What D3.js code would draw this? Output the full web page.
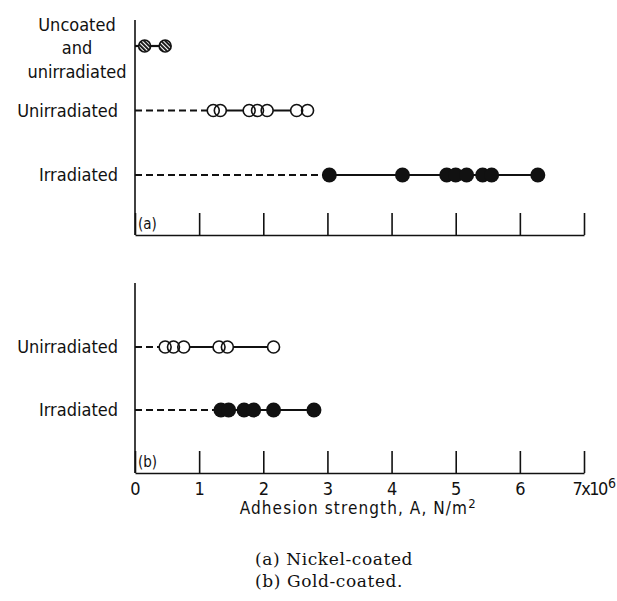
<!DOCTYPE html>
<html lang="en">
<head>
<meta charset="UTF-8">
<title>Adhesion strength</title>
<script src="https://d3js.org/d3.v7.min.js"></script>
<style>
  body { margin: 0; background: #fff; }
  svg { display: block; }
  .lbl { font-family: "DejaVu Sans Condensed", "DejaVu Sans", sans-serif; font-stretch: condensed; fill: #111; }
  .cap { font-family: "DejaVu Serif", serif; fill: #111; }
</style>
</head>
<body>
<div id="chart"></div>
<script>
// values, in units of 10^6 N/m^2
const categoriesA = ["Uncoated and unirradiated", "Unirradiated", "Irradiated"];
const uncoatedA = [0.15, 0.47];
const unirradA = [1.22, 1.33, 1.78, 1.91, 2.06, 2.52, 2.69];
const irradA = [3.03, 4.17, 4.86, 5.0, 5.17, 5.42, 5.56, 6.28];

const categoriesB = ["Unirradiated", "Irradiated"];
const unirradB = [0.47, 0.60, 0.76, 1.31, 1.44, 2.16];
const irradB = [1.34, 1.46, 1.70, 1.85, 2.16, 2.79];

const tickValues = [0, 1, 2, 3, 4, 5, 6, 7];
const tickLabels = ["0", "1", "2", "3", "4", "5", "6", "7x10"];
const axisTitle = "Adhesion strength, A, N/m";
const captions = ["(a) Nickel-coated", "(b) Gold-coated."];

const W = 617, H = 601;
const svg = d3.select("#chart").append("svg").attr("width", W).attr("height", H);

// diagonal hatch for the uncoated points
svg.append("defs").append("pattern")
    .attr("id", "hatch")
    .attr("patternUnits", "userSpaceOnUse")
    .attr("width", 3).attr("height", 3)
    .attr("patternTransform", "rotate(-45)")
    .append("rect")
    .attr("width", 1.9).attr("height", 3)
    .attr("fill", "#111");

const x = d3.scaleLinear().domain([0, 7]).range([135, 584]);

const panels = [
    { name: "(a)", cats: categoriesA, rows: [uncoatedA, unirradA, irradA], kinds: ["hatch", "open", "filled"],
      top: 20, bottom: 235, yr: [46, 175], labels: false },
    { name: "(b)", cats: categoriesB, rows: [unirradB, irradB], kinds: ["open", "filled"],
      top: 283, bottom: 473, yr: [347, 410], labels: true }
];

panels.forEach(p => {
    const g = svg.append("g");
    const y = d3.scalePoint().domain(p.cats).range(p.yr);

    // left axis
    g.append("line")
        .attr("x1", x(0)).attr("x2", x(0))
        .attr("y1", p.top).attr("y2", p.bottom)
        .attr("stroke", "#111").attr("stroke-width", 1.6);

    // bottom axis with upward ticks
    const ax = d3.axisBottom(x)
        .tickValues(tickValues)
        .tickSize(-22)
        .tickSizeOuter(0)
        .tickPadding(9)
        .tickFormat((d, i) => p.labels ? tickLabels[i] : "");
    const axg = g.append("g")
        .attr("transform", `translate(0,${p.bottom})`)
        .call(ax);
    axg.select(".domain").attr("stroke", "#111").attr("stroke-width", 1.6);
    axg.selectAll(".tick line").attr("stroke", "#111").attr("stroke-width", 1.6);
    axg.selectAll(".tick text")
        .attr("class", "lbl")
        .style("font-size", "18px")
        .attr("fill", "#111");
    if (p.labels) {
        const last = axg.selectAll(".tick text").filter((d, i) => i === tickValues.length - 1);
        last.attr("text-anchor", "start").attr("x", -12)
            .style("letter-spacing", "-1.6px");
        last.append("tspan").attr("dy", "-0.45em").attr("dx", 1.5)
            .style("font-size", "14px").style("letter-spacing", "0px").text("6");
    }

    // panel tag
    g.append("text").attr("class", "lbl")
        .attr("x", x(0) + 3).attr("y", p.bottom - 6)
        .style("font-size", "15px")
        .text(p.name);

    // row labels
    p.cats.forEach(c => {
        if (c === "Uncoated and unirradiated") {
            const t = g.append("text").attr("class", "lbl")
                .attr("text-anchor", "middle")
                .style("font-size", "18px");
            ["Uncoated", "and", "unirradiated"].forEach((w, i) => {
                t.append("tspan").attr("x", 77).attr("y", y(c) + 8 + (i - 1) * 23.5).text(w);
            });
        } else {
            g.append("text").attr("class", "lbl")
                .attr("text-anchor", "end")
                .attr("x", 118).attr("y", y(c))
                .attr("dy", "0.36em")
                .style("font-size", "18px")
                .text(c);
        }
    });

    // rows
    p.rows.forEach((vals, i) => {
        const yy = y(p.cats[i]);
        const kind = p.kinds[i];
        const lo = d3.min(vals), hi = d3.max(vals);
        g.append("line")
            .attr("x1", x(0)).attr("x2", x(lo))
            .attr("y1", yy).attr("y2", yy)
            .attr("stroke", "#111").attr("stroke-width", 2.2)
            .attr("stroke-dasharray", kind === "hatch" ? null : "7,4");
        g.append("line")
            .attr("x1", x(lo)).attr("x2", x(hi))
            .attr("y1", yy).attr("y2", yy)
            .attr("stroke", "#111").attr("stroke-width", 2.2);

        const r = kind === "filled" ? 7.5 : 6;
        // white base so the line doesn't show inside
        g.append("g").selectAll("circle").data(vals).join("circle")
            .attr("cx", d => x(d)).attr("cy", yy).attr("r", r)
            .attr("fill", kind === "filled" ? "#111" : "#fff");
        if (kind === "hatch") {
            g.append("g").selectAll("circle").data(vals).join("circle")
                .attr("cx", d => x(d)).attr("cy", yy).attr("r", r)
                .attr("fill", "url(#hatch)");
        }
        if (kind !== "filled") {
            g.append("g").selectAll("circle").data(vals).join("circle")
                .attr("cx", d => x(d)).attr("cy", yy).attr("r", r)
                .attr("fill", "none")
                .attr("stroke", "#111").attr("stroke-width", 1.6);
        }
    });
});

// axis title
const at = svg.append("text").attr("class", "lbl")
    .attr("x", x(3.48)).attr("y", 514)
    .attr("text-anchor", "middle")
    .style("font-size", "17px")
    .style("letter-spacing", "1.1px")
    .text(axisTitle);
at.append("tspan").attr("dy", "-0.45em").style("font-size", "13px").text("2");

// captions
captions.forEach((c, i) => {
    svg.append("text").attr("class", "cap")
        .attr("x", 255).attr("y", 565 + i * 22)
        .style("font-size", "17px")
        .style("letter-spacing", "0.6px")
        .text(c);
});
</script>
</body>
</html>
